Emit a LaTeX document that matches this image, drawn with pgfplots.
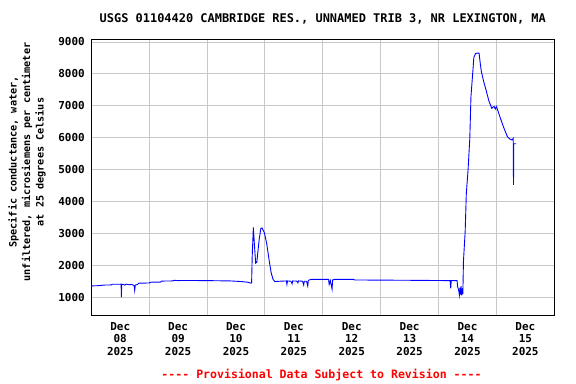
\documentclass[border=0pt]{standalone}
\usepackage{pgfplots}
\pgfplotsset{compat=1.18}
\usepackage{fontspec}
\setmainfont{DejaVu Sans Mono}
\setmonofont{DejaVu Sans Mono}
\definecolor{gridgray}{RGB}{200,200,200}
\pgfplotstableread{
x y
0.00 1355
0.10 1360
0.20 1375
0.21 1380
0.35 1385
0.36 1405
0.50 1405
0.515 1410
0.52 1000
0.525 1405
0.55 1400
0.58 1380
0.60 1410
0.65 1390
0.70 1400
0.74 1360
0.75 1210
0.76 1380
0.80 1400
0.82 1440
1.00 1445
1.03 1470
1.20 1475
1.21 1505
1.40 1510
1.44 1530
1.50 1520
1.60 1525
2.00 1520
2.40 1510
2.60 1490
2.70 1470
2.76 1440
2.77 1450
2.78 2270
2.80 3190
2.82 2600
2.84 2070
2.86 2100
2.90 2800
2.93 3160
2.95 3170
2.99 3025
3.03 2690
3.08 2070
3.11 1750
3.14 1560
3.17 1490
3.25 1500
3.37 1510
3.38 1400
3.39 1510
3.45 1500
3.47 1420
3.48 1510
3.55 1505
3.57 1450
3.58 1510
3.65 1500
3.67 1380
3.68 1500
3.72 1500
3.74 1350
3.75 1530
3.80 1560
4.10 1560
4.11 1400
4.13 1520
4.16 1250
4.17 1540
4.20 1560
4.53 1560
4.55 1540
5.50 1530
6.20 1520
6.21 1280
6.22 1520
6.32 1520
6.33 1330
6.35 1200
6.36 1070
6.37 1300
6.38 1080
6.39 1350
6.40 1060
6.41 1200
6.42 1100
6.43 2120
6.46 3060
6.48 4260
6.51 4990
6.54 5980
6.56 7290
6.59 8020
6.61 8520
6.64 8640
6.66 8650
6.70 8650
6.72 8340
6.74 8070
6.78 7760
6.82 7500
6.87 7150
6.92 6920
6.94 6960
6.96 6980
6.98 6900
7.00 6980
7.03 6820
7.09 6500
7.13 6300
7.19 6030
7.23 5960
7.27 5930
7.29 5980
7.295 4520
7.30 5810
7.34 5810
}\datatable
\begin{document}
\begin{tikzpicture}[x=1bp,y=1bp]
\begin{axis}[
  at={(0,0)}, anchor=south west,
  scale only axis, width=463bp, height=276.4bp,
  xmin=0, xmax=8, ymin=420, ymax=9085,
  axis line style={black, line width=1.2bp},
  xtick={1,2,3,4,5,6,7}, xticklabels={},
  extra x ticks={0.5,1.5,2.5,3.5,4.5,5.5,6.5,7.5},
  extra x tick labels={{Dec\\08\\2025},{Dec\\09\\2025},{Dec\\10\\2025},{Dec\\11\\2025},{Dec\\12\\2025},{Dec\\13\\2025},{Dec\\14\\2025},{Dec\\15\\2025}},
  extra x tick style={grid=none, major tick length=0pt},
  x tick label style={align=center, font=\bfseries\fontsize{11}{12.8}\selectfont, yshift=-3bp},
  ytick={1000,2000,3000,4000,5000,6000,7000,8000,9000},
  yticklabels={1000,2000,3000,4000,5000,6000,7000,8000,9000},
  y tick label style={font=\bfseries\fontsize{11}{13}\selectfont, xshift=-3bp},
  major tick length=0pt,
  grid=major, grid style={gridgray, line width=1bp},
]
\addplot[blue, line width=0.9bp, mark=none] table[x=x,y=y] {\datatable};
\end{axis}
\node[font=\bfseries\fontsize{12}{14}\selectfont] at (231.5bp,296.7bp) {USGS 01104420 CAMBRIDGE RES., UNNAMED TRIB 3, NR LEXINGTON, MA};
\node[font=\ttfamily\bfseries\fontsize{11.6}{14}\selectfont, text=red] at (230.2bp,-59.3bp) {---- Provisional Data Subject to Revision ----};
\node[rotate=90, align=center, font=\bfseries\fontsize{10.2}{13.5}\selectfont] at (-64.3bp,153.7bp) {Specific conductance, water,\\unfiltered, microsiemens per centimeter\\at 25 degrees Celsius};
\pgfresetboundingbox
\path[use as bounding box] (-91.3bp,-68.3bp) rectangle (484.7bp,315.7bp);
\end{tikzpicture}
\end{document}
